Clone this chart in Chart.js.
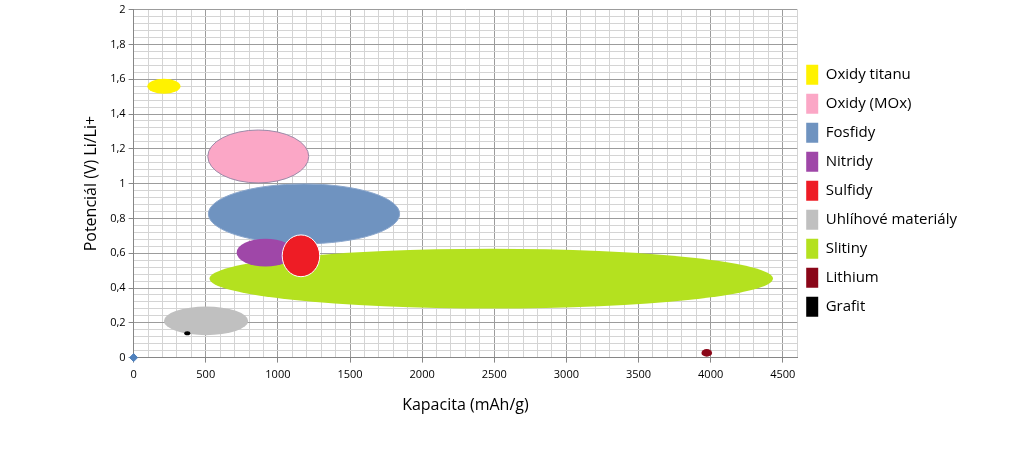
<!DOCTYPE html>
<html>
<head>
<meta charset="utf-8">
<script src="https://cdn.jsdelivr.net/npm/chart.js@4"></script>
<style>
  body { margin: 0; background: #fff; }
  #wrap { width: 1023px; height: 457px; position: relative; }
</style>
</head>
<body>
<div id="wrap"><canvas id="chart"></canvas></div>
<script>
// =====================
// DATA
// =====================
const materials = ["Oxidy titanu", "Oxidy (MOx)", "Fosfidy", "Nitridy", "Sulfidy",
                   "Uhlíhové materiály", "Slitiny", "Lithium", "Grafit"];
// ellipse centre (capacity mAh/g, potential V)
const centerX = [210, 864, 1181, 914, 1160, 502, 2479, 3973, 372];
const centerY = [1.559, 1.156, 0.826, 0.603, 0.585, 0.211, 0.454, 0.027, 0.14];
// half extent of each ellipse in data units
const spanX = [115, 350, 663, 200, 130, 292, 1953, 37, 21];
const spanY = [0.043, 0.152, 0.172, 0.08, 0.12, 0.082, 0.172, 0.022, 0.012];

const fills = ["#fff200", "#fba7c6", "#6f93c0", "#9f47a8", "#ee1c25",
               "#c0c0c0", "#b4e11f", "#8a0618", "#000000"];
const outlines = [null, "#9a8aa8", "#8aa6cc", null, "#ffffff", null, null, null, null];

// the lone marker at the origin
const originPoint = [{ x: 0, y: 0 }];

const xMax = 4600;
const yMax = 2;

// =====================
// ELLIPSE PLUGIN — bubbles stretched along both axes
// =====================
const ellipsePlugin = {
    id: "ellipses",
    beforeDatasetsDraw(chart) {
        const ctx = chart.ctx;
        const xs = chart.scales.x, ys = chart.scales.y;
        const area = chart.chartArea;

        // big ones go behind
        let order = materials.map(function (m, i) { return i; });
        order.sort(function (a, b) { return spanX[b] * spanY[b] - spanX[a] * spanY[a]; });

        ctx.save();
        ctx.beginPath();
        ctx.rect(area.left, area.top, area.right - area.left, area.bottom - area.top);
        ctx.clip();
        order.forEach(function (i) {
            let cx = xs.getPixelForValue(centerX[i]);
            let cy = ys.getPixelForValue(centerY[i]);
            let rx = Math.abs(xs.getPixelForValue(centerX[i] + spanX[i]) - cx);
            let ry = Math.abs(ys.getPixelForValue(centerY[i] + spanY[i]) - cy);
            ctx.beginPath();
            ctx.ellipse(cx, cy, rx, ry, 0, 0, Math.PI * 2);
            ctx.fillStyle = fills[i];
            ctx.fill();
            if (outlines[i]) {
                ctx.lineWidth = 1;
                ctx.strokeStyle = outlines[i];
                ctx.stroke();
            }
        });
        ctx.restore();
    }
};

// =====================
// DATASETS
// =====================
let datasets = materials.map(function (name, i) {
    return {
        label: name,
        data: [{ x: centerX[i], y: centerY[i] }],
        backgroundColor: fills[i],
        borderColor: fills[i],
        pointRadius: 0,
        pointHoverRadius: 0
    };
});
datasets.push({
    label: "_origin",
    data: originPoint,
    pointStyle: "rectRot",
    pointRadius: 4,
    backgroundColor: "#4f81bd",
    borderColor: "#4f81bd",
    clip: false
});

const font = "'Open Sans', 'Liberation Sans', sans-serif";

function isMajorX(v) { return Math.round(v) % 500 === 0; }
function isMajorY(v) { return Math.round(v * 100) % 20 === 0; }

new Chart(document.getElementById("chart"), {
    type: "scatter",
    data: { datasets: datasets },
    plugins: [ellipsePlugin],
    options: {
        responsive: true,
        maintainAspectRatio: false,
        animation: false,
        events: [],
        layout: { padding: { top: 9, left: 78, bottom: 38, right: 56 } },
        plugins: {
            tooltip: { enabled: false },
            legend: {
                position: "right",
                fullSize: false,
                // empty title, only pushes the list a bit lower
                title: { display: true, text: " ", color: "#000", font: { size: 2 }, padding: { top: 6, bottom: 6 } },
                labels: {
                    boxWidth: 12,
                    boxHeight: 20,
                    padding: 9,
                    color: "#000",
                    font: { family: font, size: 15 },
                    filter: function (item) { return item.text !== "_origin"; },
                    generateLabels: function (chart) {
                        return chart.data.datasets.map(function (ds, i) {
                            return {
                                text: ds.label,
                                fillStyle: ds.backgroundColor,
                                strokeStyle: ds.backgroundColor,
                                fontColor: "#000",
                                lineWidth: 0,
                                datasetIndex: i
                            };
                        });
                    }
                }
            }
        },
        scales: {
            x: {
                type: "linear",
                min: 0,
                max: xMax,
                border: { color: "#868686" },
                grid: {
                    color: function (c) { return isMajorX(c.tick.value) ? "#9c9c9c" : "#d4d4d4"; },
                    tickColor: function (c) { return isMajorX(c.tick.value) ? "#868686" : "rgba(0,0,0,0)"; },
                    tickLength: 5
                },
                ticks: {
                    stepSize: 100,
                    autoSkip: false,
                    maxRotation: 0,
                    padding: 6,
                    color: "#000",
                    font: { family: font, size: 11 },
                    callback: function (v) { return isMajorX(v) ? String(v) : ""; }
                },
                title: {
                    display: true,
                    text: "Kapacita (mAh/g)",
                    color: "#000",
                    font: { family: font, size: 16 },
                    padding: { top: 8 }
                }
            },
            y: {
                type: "linear",
                min: 0,
                max: yMax,
                border: { color: "#868686" },
                grid: {
                    color: function (c) { return isMajorY(c.tick.value) ? "#9c9c9c" : "#d4d4d4"; },
                    tickColor: function (c) { return isMajorY(c.tick.value) ? "#868686" : "rgba(0,0,0,0)"; },
                    tickLength: 5
                },
                ticks: {
                    stepSize: 0.04,
                    autoSkip: false,
                    padding: 3,
                    color: "#000",
                    font: { family: font, size: 11 },
                    callback: function (v) {
                        return isMajorY(v) ? String(Math.round(v * 10) / 10).replace(".", ",") : "";
                    }
                },
                title: {
                    display: true,
                    text: "Potenciál (V) Li/Li+",
                    color: "#000",
                    font: { family: font, size: 16 },
                    padding: { bottom: 6 }
                }
            }
        }
    }
});
</script>
</body>
</html>
